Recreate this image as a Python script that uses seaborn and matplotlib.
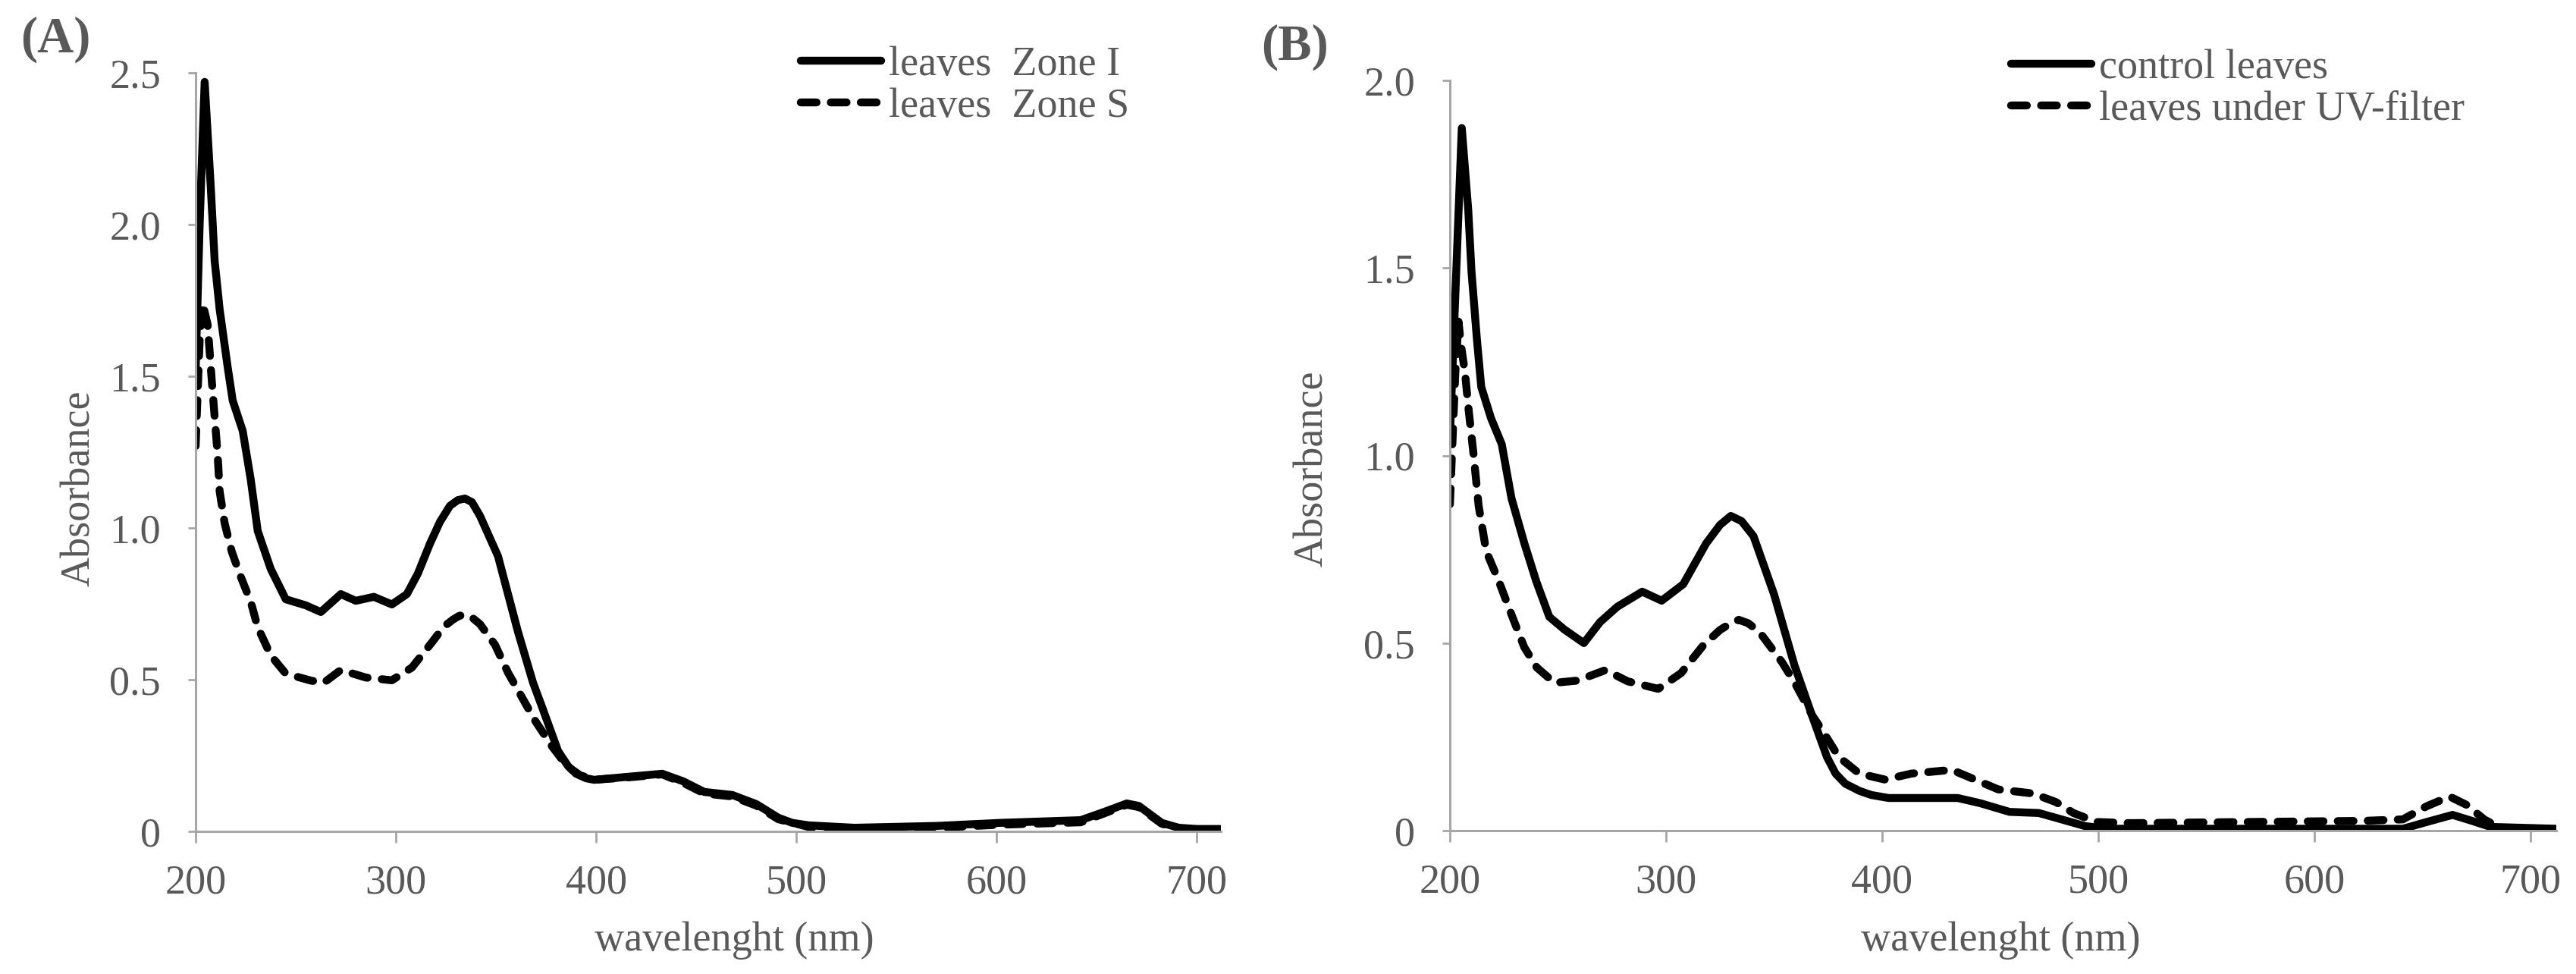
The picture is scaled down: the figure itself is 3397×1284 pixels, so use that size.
import numpy as np
import pandas as pd
import matplotlib
matplotlib.use("Agg")
import matplotlib.pyplot as plt
import seaborn as sns

# ---- data ----
# (A) leaves, Zone I (solid) and Zone S (dashed)
wl_a_zone_i = [200, 202, 204.5, 207.5, 209.5, 212, 216, 218.5, 223.5, 227.5, 231, 237.5, 245,
               255, 262.5, 272.5, 280, 289, 298, 305.5, 311, 317, 322, 327, 331, 334.5, 338,
               342, 351, 361, 368.5, 373, 381, 386, 390, 395, 399, 416, 433, 443.5, 454,
               468, 480, 491, 498, 506, 529, 570, 601.5, 642, 654, 665, 671, 682.5, 691,
               700, 712]
abs_a_zone_i = [1.52, 2.0, 2.47, 2.13, 1.88, 1.72, 1.53, 1.42, 1.32, 1.16, 0.99, 0.865, 0.765,
                0.745, 0.723, 0.782, 0.76, 0.773, 0.748, 0.782, 0.85, 0.948, 1.02, 1.073,
                1.092, 1.097, 1.085, 1.04, 0.907, 0.657, 0.49, 0.41, 0.265, 0.215, 0.19,
                0.175, 0.17, 0.18, 0.19, 0.165, 0.13, 0.12, 0.09, 0.045, 0.028, 0.02, 0.012,
                0.018, 0.028, 0.037, 0.065, 0.092, 0.084, 0.028, 0.012, 0.008, 0.008]

wl_a_zone_s = [200, 202, 203.5, 206, 208, 211, 212, 214.5, 218, 222, 227.5, 231, 237.5, 245,
               257.5, 264, 272.5, 285, 298, 308, 318, 324, 328.5, 331.5, 334.5, 338, 342,
               349.5, 356, 361, 369.5, 378, 385.5, 392, 399, 416, 433, 443.5, 454, 468,
               480, 491, 506, 529, 570, 601.5, 642, 654, 665, 671, 682.5, 691, 700, 712]
abs_a_zone_s = [1.27, 1.62, 1.74, 1.67, 1.49, 1.24, 1.12, 1.015, 0.923, 0.848, 0.757, 0.673,
                0.58, 0.52, 0.497, 0.49, 0.532, 0.507, 0.498, 0.54, 0.623, 0.675, 0.698,
                0.71, 0.715, 0.705, 0.683, 0.615, 0.523, 0.465, 0.365, 0.28, 0.215, 0.185,
                0.17, 0.178, 0.188, 0.16, 0.125, 0.115, 0.085, 0.04, 0.015, 0.008, 0.012,
                0.022, 0.03, 0.06, 0.088, 0.08, 0.025, 0.01, 0.006, 0.006]

# (B) control leaves (solid) and leaves under UV-filter (dashed)
wl_b_control = [200, 203, 205.5, 208.5, 210, 212.5, 214.5, 219, 224, 228.5, 234.5, 240, 246,
                253, 262, 269.5, 277.5, 289, 298, 308, 318.5, 325, 330, 335, 340.5, 350,
                359.5, 368, 374.5, 378.5, 383, 389.5, 395, 403, 435, 445.5, 459, 472.5, 483,
                494, 504.5, 641, 652, 664, 673, 681.5, 712]
abs_b_control = [1.05, 1.5, 1.873, 1.654, 1.49, 1.31, 1.183, 1.10, 1.03, 0.886, 0.765, 0.664,
                 0.57, 0.536, 0.50, 0.556, 0.597, 0.637, 0.613, 0.657, 0.765, 0.815, 0.839,
                 0.825, 0.785, 0.63, 0.44, 0.30, 0.196, 0.152, 0.125, 0.106, 0.095, 0.087,
                 0.087, 0.073, 0.05, 0.047, 0.03, 0.012, 0.005, 0.005, 0.023, 0.042, 0.026,
                 0.01, 0.005]

wl_b_uv = [200, 202.5, 204, 205, 207, 208.7, 211, 213.3, 216.8, 222.7, 228.5, 234.4, 240.2,
           248.4, 259, 272, 282.3, 296.4, 307, 317.4, 325, 330, 333.7, 338, 343.2, 353.7,
           359.6, 367.7, 372, 380, 389.5, 401.4, 413.5, 432.3, 443, 453.7, 469.8, 480.5,
           488.5, 499.3, 515, 568.8, 622.5, 641, 652, 662.6, 670.7, 678.6, 686.7, 712]
abs_b_uv = [0.87, 1.22, 1.357, 1.30, 1.22, 1.12, 1.0, 0.866, 0.745, 0.664, 0.576, 0.489,
            0.435, 0.394, 0.40, 0.428, 0.398, 0.378, 0.42, 0.495, 0.535, 0.553, 0.562,
            0.553, 0.53, 0.449, 0.394, 0.307, 0.27, 0.196, 0.152, 0.136, 0.152, 0.162,
            0.136, 0.11, 0.099, 0.076, 0.047, 0.023, 0.02, 0.023, 0.026, 0.03, 0.065,
            0.091, 0.068, 0.03, 0.005, 0.005]

labels_a = ["leaves  Zone I", "leaves  Zone S"]
labels_b = ["control leaves", "leaves under UV-filter"]

df_a = pd.concat([
    pd.DataFrame({"wl": wl_a_zone_i, "abs": abs_a_zone_i, "serie": labels_a[0]}),
    pd.DataFrame({"wl": wl_a_zone_s, "abs": abs_a_zone_s, "serie": labels_a[1]}),
])
df_b = pd.concat([
    pd.DataFrame({"wl": wl_b_control, "abs": abs_b_control, "serie": labels_b[0]}),
    pd.DataFrame({"wl": wl_b_uv, "abs": abs_b_uv, "serie": labels_b[1]}),
])

# ---- style ----
sns.set_style("white")
plt.rcParams["font.family"] = ["Liberation Serif", "DejaVu Serif"]
txt = "#595959"
axc = "#a6a6a6"

W, H = 3397, 1284
fig = plt.figure(figsize=(W / 100, H / 100), dpi=100)

def px_axes(left, top, right, bottom):
    return fig.add_axes([left / W, 1 - bottom / H, (right - left) / W, (bottom - top) / H])

ax_a = px_axes(258, 96, 1610, 1096)
ax_b = px_axes(1912, 106, 3371, 1095)

panels = [
    (ax_a, df_a, labels_a, 2.5, np.arange(0, 2.51, 0.5), (1056, 60)),
    (ax_b, df_b, labels_b, 2.0, np.arange(0, 2.01, 0.5), (2652, 64)),
]

for ax, df, labs, ymax, yticks, leg_xy in panels:
    sns.lineplot(data=df, x="wl", y="abs", style="serie", style_order=labs,
                 dashes={labs[0]: "", labs[1]: (2.0, 1.8)}, color="black",
                 linewidth=7.5, dash_capstyle="round", solid_capstyle="round",
                 solid_joinstyle="round", dash_joinstyle="round",
                 estimator=None, sort=True, legend=False, ax=ax)
    ax.set_xlim(200, 712)
    ax.set_ylim(0, ymax)
    ax.set_xticks([200, 300, 400, 500, 600, 700])
    ax.set_yticks(yticks)
    ax.set_yticklabels(["0"] + [f"{v:.1f}" for v in yticks[1:]])
    ax.set_xlabel("")
    ax.set_ylabel("")
    for s in ["top", "right"]:
        ax.spines[s].set_visible(False)
    for s in ["left", "bottom"]:
        ax.spines[s].set_color(axc)
        ax.spines[s].set_linewidth(2.2)
    ax.tick_params(axis="x", direction="out", length=11, width=2, color=axc,
                   labelsize=39, labelcolor=txt, pad=20, bottom=True)
    ax.tick_params(axis="y", direction="out", length=7, width=2, color=axc,
                   labelsize=39, labelcolor=txt, pad=26, left=True)
    leg = ax.legend(handles=ax.lines[:2], labels=labs, loc="upper left",
                    bbox_to_anchor=(leg_xy[0] / W, 1 - leg_xy[1] / H),
                    bbox_transform=fig.transFigure, frameon=False, fontsize=39,
                    handlelength=1.95, handletextpad=0.2, labelspacing=0.1,
                    borderpad=0, borderaxespad=0)
    for t in leg.get_texts():
        t.set_color(txt)

# axis titles and panel letters
fig.text(968 / W, 1 - 1240 / H, "wavelenght (nm)", ha="center", va="center",
         fontsize=39, color=txt)
fig.text(2638 / W, 1 - 1240 / H, "wavelenght (nm)", ha="center", va="center",
         fontsize=39, color=txt)
fig.text(105 / W, 1 - 644 / H, "Absorbance", ha="center", va="center", rotation=90,
         fontsize=39, color=txt)
fig.text(1731 / W, 1 - 618 / H, "Absorbance", ha="center", va="center", rotation=90,
         fontsize=39, color=txt)
fig.text(73 / W, 1 - 52 / H, "(A)", ha="center", va="center", fontsize=48,
         fontweight="bold", color=txt)
fig.text(1708 / W, 1 - 62 / H, "(B)", ha="center", va="center", fontsize=48,
         fontweight="bold", color=txt)

fig.savefig("out.png", dpi=100, facecolor="white")
